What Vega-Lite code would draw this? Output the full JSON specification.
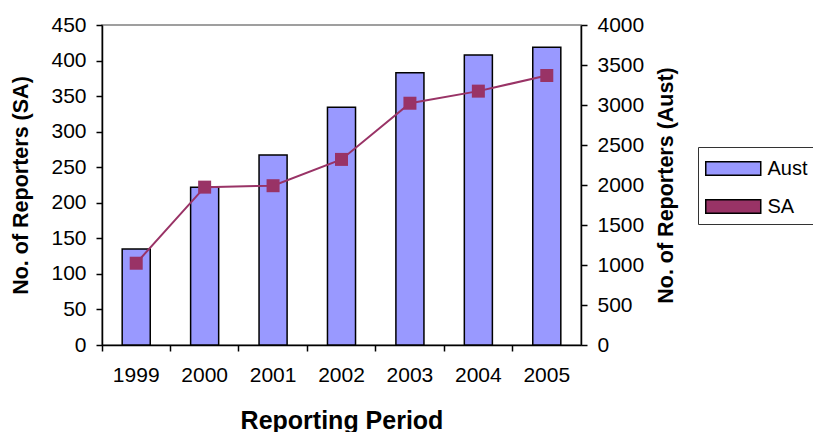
{
  "$schema": "https://vega.github.io/schema/vega-lite/v6.json",
  "width": 479,
  "height": 320,
  "autosize": {"type": "none"},
  "padding": {"left": 102, "top": 25, "right": 232, "bottom": 87},
  "background": "white",
  "config": {
    "font": "Liberation Sans",
    "view": {"stroke": "#808080", "strokeWidth": 1.5},
    "axis": {
      "labelFont": "Liberation Sans",
      "labelFontSize": 21,
      "labelColor": "black",
      "titleFont": "Liberation Sans",
      "titleFontWeight": "bold",
      "titleColor": "black",
      "domainColor": "black",
      "tickColor": "black",
      "domainWidth": 1.5,
      "tickWidth": 1.5,
      "tickSize": 6,
      "grid": false,
      "labelPadding": 10,
      "labelOverlap": false
    },
    "legend": {
      "title": null,
      "orient": "none",
      "legendX": 596,
      "legendY": 122,
      "padding": 7,
      "strokeColor": "#333333",
      "fillColor": "white",
      "labelFont": "Liberation Sans",
      "labelFontSize": 20,
      "labelColor": "black",
      "symbolSize": 756,
      "labelOffset": 33.5,
      "rowPadding": 13,
      "symbolType": "M-1,-0.5H3V0.5H-1Z",
      "symbolStrokeColor": "black",
      "symbolStrokeWidth": 1.5
    }
  },
  "data": {
    "values": [
      {"year": "1999", "aust": 1200, "sa": 115},
      {"year": "2000", "aust": 1971, "sa": 222},
      {"year": "2001", "aust": 2375, "sa": 224},
      {"year": "2002", "aust": 2971, "sa": 261},
      {"year": "2003", "aust": 3404, "sa": 340},
      {"year": "2004", "aust": 3625, "sa": 357},
      {"year": "2005", "aust": 3721, "sa": 379}
    ]
  },
  "layer": [
    {
      "mark": {"type": "bar", "stroke": "black", "strokeWidth": 1.5, "width": {"band": 0.41}},
      "encoding": {
        "x": {
          "field": "year",
          "type": "ordinal",
          "scale": {"paddingInner": 0, "paddingOuter": 0},
          "axis": {
            "title": "Reporting Period",
            "labelAngle": 0,
            "bandPosition": 0,
            "labelPadding": 13,
            "titleFontSize": 25,
            "titleX": 239.5,
            "titleY": 83,
            "titleBaseline": "alphabetic",
            "titleAlign": "center"
          }
        },
        "y": {
          "field": "aust",
          "type": "quantitative",
          "scale": {"domain": [0, 4000], "nice": false},
          "axis": {
            "orient": "right",
            "title": "No. of Reporters (Aust)",
            "format": "d",
            "values": [0, 500, 1000, 1500, 2000, 2500, 3000, 3500, 4000],
            "titleFontSize": 21.5,
            "titleAngle": 270,
            "titleX": 85.5,
            "titleY": 160,
            "titleBaseline": "middle",
            "titleAlign": "center"
          }
        },
        "fill": {
          "datum": "Aust",
          "type": "nominal",
          "scale": {"domain": ["Aust", "SA"], "range": ["#9999FF", "#993366"]},
          "legend": {"symbolType": "M-1,-0.5H3V0.5H-1Z"}
        }
      }
    },
    {
      "mark": {"type": "line", "strokeWidth": 2, "color": "#993366"},
      "encoding": {
        "x": {"field": "year", "type": "ordinal"},
        "y": {
          "field": "sa",
          "type": "quantitative",
          "scale": {"domain": [0, 450], "nice": false},
          "axis": {
            "orient": "left",
            "title": "No. of  Reporters (SA)",
            "values": [0, 50, 100, 150, 200, 250, 300, 350, 400, 450],
            "titleFontSize": 21.5,
            "titleAngle": 270,
            "titleX": -81,
            "titleY": 160,
            "titleBaseline": "middle",
            "titleAlign": "center"
          }
        }
      }
    },
    {
      "mark": {"type": "square", "size": 169, "filled": true, "opacity": 1},
      "encoding": {
        "x": {"field": "year", "type": "ordinal"},
        "y": {"field": "sa", "type": "quantitative", "scale": {"domain": [0, 450], "nice": false}, "axis": null},
        "fill": {
          "datum": "SA",
          "type": "nominal",
          "legend": {"symbolType": "M-1,-0.5H3V0.5H-1Z"}
        }
      }
    }
  ],
  "resolve": {"scale": {"y": "independent"}}
}
